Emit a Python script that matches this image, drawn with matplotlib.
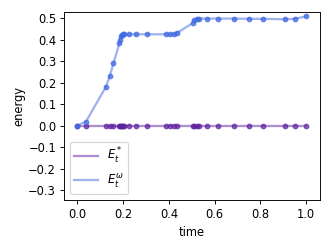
import matplotlib
matplotlib.use("Agg")
import matplotlib.pyplot as plt
from matplotlib.ticker import MultipleLocator

# time stamps shared by both series
times = [0.000, 0.038, 0.124, 0.142, 0.158, 0.184, 0.187, 0.191, 0.194, 0.198,
         0.204, 0.226, 0.258, 0.306, 0.386, 0.405, 0.421, 0.437, 0.504, 0.512,
         0.522, 0.531, 0.567, 0.617, 0.686, 0.749, 0.812, 0.908, 0.953, 1.000]

e_omega = [0.000, 0.019, 0.179, 0.231, 0.290, 0.383, 0.400, 0.415, 0.422, 0.425,
           0.425, 0.425, 0.425, 0.425, 0.425, 0.425, 0.425, 0.432, 0.477, 0.490,
           0.497, 0.498, 0.498, 0.498, 0.498, 0.497, 0.497, 0.495, 0.497, 0.509]

e_star = [0.0] * len(times)

purple = "#5e20a0"
blue = "#4169e1"

fig, ax = plt.subplots(figsize=(4, 3), dpi=83)

ax.plot(times, e_star, color=purple, alpha=0.5, lw=2, label=r"$E_t^*$")
ax.plot(times, e_star, "o", color=purple, alpha=0.7, ms=4)
ax.plot(times, e_omega, color=blue, alpha=0.5, lw=2, label=r"$E_t^\omega$")
ax.plot(times, e_omega, "o", color=blue, alpha=0.75, ms=4)

ax.set_xlim(-0.058, 1.061)
ax.set_ylim(-0.346, 0.529)
ax.yaxis.set_major_locator(MultipleLocator(0.1))
ax.set_xlabel("time")
ax.set_ylabel("energy", labelpad=2)
ax.legend(loc="lower left")

fig.subplots_adjust(left=0.193, right=0.964, top=0.952, bottom=0.197)
fig.savefig("out.png")
